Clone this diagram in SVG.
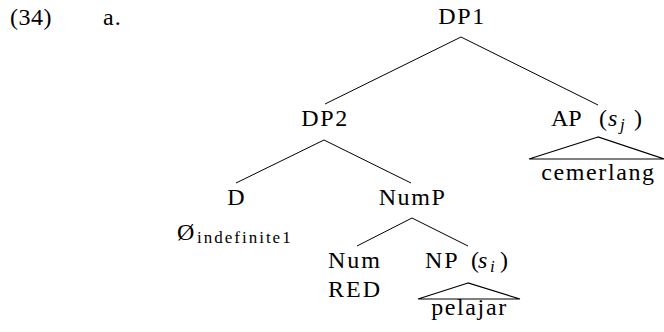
<svg xmlns="http://www.w3.org/2000/svg" width="664" height="332" viewBox="0 0 664 332">
  <style>
    .c { text-anchor: middle; }
    .it { font-style: italic; }
    .sub { font-size: 17px; }
    .wide { letter-spacing: 1.6px; }
    .edge { stroke: #000; stroke-width: 1; fill: none; }
    .tri { stroke: #000; stroke-width: 1.2; fill: none; }
  </style>
  <rect width="664" height="332" fill="#fff"/>

  <g font-family="Liberation Serif, serif" font-size="24" fill="#000">
    <!-- example number -->
    <text x="10" y="25" letter-spacing="0.5">(34)</text>
    <text x="103" y="25" letter-spacing="1">a.</text>

    <!-- branches -->
    <g id="connectors">
      <line class="edge" x1="461" y1="37" x2="325" y2="104"/>
      <line class="edge" x1="461" y1="37" x2="598" y2="105"/>
      <line class="edge" x1="324" y1="140" x2="236" y2="183"/>
      <line class="edge" x1="324" y1="140" x2="411" y2="183"/>
      <line class="edge" x1="412" y1="218" x2="357" y2="246"/>
      <line class="edge" x1="412" y1="218" x2="468" y2="246"/>
    </g>

    <g id="dp1">
      <text class="c wide" x="462" y="24">DP1</text>
    </g>

    <g id="dp2">
      <text class="c wide" x="325" y="126">DP2</text>
    </g>

    <g id="ap">
      <text x="551" y="126">AP</text>
      <text x="599" y="126">(</text>
      <text class="it" x="608" y="126">s</text>
      <text class="it sub" x="620" y="130">j</text>
      <text x="634" y="126">)</text>
      <polygon class="tri" points="598,137 529,159 664,159"/>
      <text class="c wide" x="598.5" y="180">cemerlang</text>
    </g>

    <g id="d">
      <text class="c" x="236" y="205">D</text>
      <text x="177" y="240">Ø</text>
      <text class="sub" x="197" y="243" letter-spacing="2">indefinite1</text>
    </g>

    <g id="nump">
      <text class="c wide" x="412.5" y="205">NumP</text>
    </g>

    <g id="num">
      <text x="328" y="268" letter-spacing="2">Num</text>
      <text x="328" y="297" letter-spacing="2">RED</text>
    </g>

    <g id="np">
      <text x="425" y="268" letter-spacing="2">NP</text>
      <text x="471" y="268">(</text>
      <text class="it" x="478" y="268">s</text>
      <text class="it sub" x="490" y="272">i</text>
      <text x="500" y="268">)</text>
      <polygon class="tri" points="468,283 418,299 520,299"/>
      <text class="c wide" x="469.5" y="315">pelajar</text>
    </g>
  </g>
</svg>
